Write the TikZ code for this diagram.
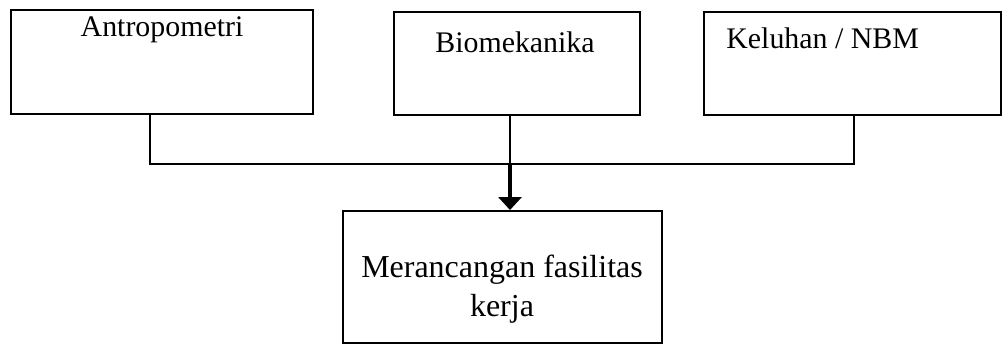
\documentclass[tikz,border=0pt]{standalone}
\usepackage{fontspec}
\setmainfont{Liberation Serif}
\usetikzlibrary{arrows.meta,positioning,calc}

\begin{document}
\begin{tikzpicture}[
  box/.style={draw,line width=1.1pt,inner sep=0pt},
  txt/.style={font=\fontsize{17}{21}\selectfont,inner sep=0pt},
  link/.style={line width=0.9pt}]
\useasboundingbox (0,0) rectangle (20.04,-6.88);

\node[box,minimum width=6.04cm,minimum height=2.08cm] (antro) at (3.24,-1.24) {};
\node[box,minimum width=4.92cm,minimum height=2.06cm] (bio) at (10.34,-1.27) {};
\node[box,minimum width=5.94cm,minimum height=2.06cm] (keluhan) at (17.05,-1.27) {};
\node[box,minimum width=6.38cm,minimum height=2.64cm] (desain) at (10.05,-5.54) {};

\node[txt] (antrotxt) at (3.24,-0.60) {Antropometri};
\node[txt] (biotxt) at (10.30,-0.84) {Biomekanika};
\node[txt,anchor=west] (keluhantxt) at (14.52,-0.76) {Keluhan / NBM};
\node[txt,font=\fontsize{18.2}{21.8}\selectfont,align=center] (desaintxt) at (10.04,-5.78) {Merancangan fasilitas\\kerja};

% connectors
\coordinate (junc) at (10.20,-3.28);
\draw[link] ([xshift=-0.24cm]antro.south) |- (junc) -| ([xshift=0.03cm]keluhan.south);
\draw[link] ([xshift=-0.14cm]bio.south) -- (junc);
\draw[line width=2pt,-{Triangle[width=0.46cm,length=0.26cm]}] (junc) -- (junc |- desain.north);
\end{tikzpicture}
\end{document}
